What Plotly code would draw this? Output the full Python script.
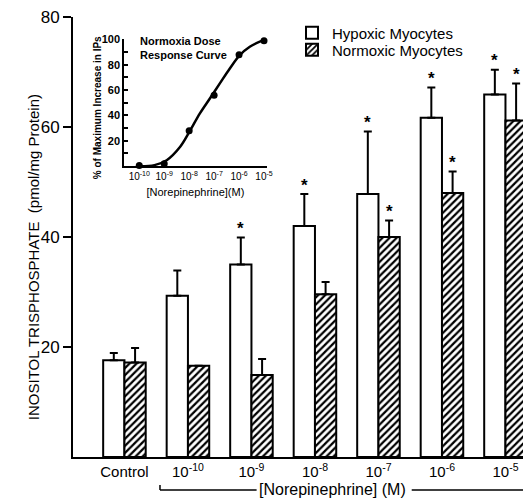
import numpy as np
import plotly.graph_objects as go

# ---- data ----
categories = ["Control", "10<sup>-10</sup>", "10<sup>-9</sup>", "10<sup>-8</sup>",
              "10<sup>-7</sup>", "10<sup>-6</sup>", "10<sup>-5</sup>"]
hypoxic = [17.6, 29.3, 35.0, 42.0, 47.8, 61.7, 65.9]
hypoxic_err = [1.3, 4.6, 4.9, 5.8, 11.4, 5.5, 4.5]
hypoxic_sig = [0, 0, 1, 1, 1, 1, 1]
normoxic = [17.2, 16.6, 14.9, 29.6, 40.0, 48.0, 61.2]
normoxic_err = [2.6, 0.0, 2.9, 2.2, 3.0, 3.9, 6.7]
normoxic_sig = [0, 0, 0, 0, 1, 1, 1]
y_ticks = [20, 40, 60, 80]

# inset: normoxia dose response
inset_dose_exp = [-10, -9, -8, -7, -6, -5]
inset_resp = [0.5, 2, 28, 56, 88, 99]
inset_curve_exp = [-10.0, -9.39, -8.90, -8.36, -7.99, -7.57, -7.17, -6.77, -6.37, -5.97, -5.57, -5.17, -4.97]
inset_curve_resp = [0.0, 0.8, 4.7, 15.3, 27.1, 41.6, 53.4, 65.3, 77.1, 87.6, 94.2, 98.2, 99.5]
inset_xtick_text = ["10<sup>-10</sup>", "10<sup>-9</sup>", "10<sup>-8</sup>",
                    "10<sup>-7</sup>", "10<sup>-6</sup>", "10<sup>-5</sup>"]
inset_yticks = [10, 20, 30, 40, 50, 60, 70, 80, 90, 100]
inset_ytick_text = ["", "<b>20</b>", "", "<b>40</b>", "", "<b>60</b>", "", "<b>80</b>", "", "<b>100</b>"]

FONT = "Liberation Sans"
BW = 0.335
pos = np.arange(len(categories))
x_h = pos - BW / 2
x_n = pos + BW / 2

fig = go.Figure()
fig.add_trace(go.Bar(
    x=x_h, y=hypoxic, width=BW, name="Hypoxic Myocytes", legend="legend",
    marker=dict(color="white", line=dict(color="black", width=2)),
    error_y=dict(type="data", array=hypoxic_err, arrayminus=[0] * 7, symmetric=False,
                 color="black", thickness=2, width=4),
))
fig.add_trace(go.Bar(
    x=x_n, y=normoxic, width=BW, name="Normoxic Myocytes", legend="legend2",
    marker=dict(color="white", line=dict(color="black", width=2),
                pattern=dict(shape="/", size=5, solidity=0.45, fgcolor="black", bgcolor="white")),
    error_y=dict(type="data", array=normoxic_err, arrayminus=[0] * 7, symmetric=False,
                 color="black", thickness=2, width=4),
))

# inset traces
fig.add_trace(go.Scatter(
    x=inset_curve_exp, y=inset_curve_resp, mode="lines", line=dict(color="black", width=2.5, shape="spline"),
    xaxis="x2", yaxis="y2", showlegend=False, cliponaxis=False,
))
fig.add_trace(go.Scatter(
    x=inset_dose_exp, y=inset_resp, mode="markers", marker=dict(color="black", size=7),
    xaxis="x2", yaxis="y2", showlegend=False, cliponaxis=False,
))

annotations = []
for xs, ys, es, sig in [(x_h, hypoxic, hypoxic_err, hypoxic_sig), (x_n, normoxic, normoxic_err, normoxic_sig)]:
    for xi, yi, ei, si in zip(xs, ys, es, sig):
        if si:
            annotations.append(dict(x=xi, y=yi + ei, xref="x", yref="y", text="<b>*</b>",
                                    showarrow=False, yshift=9, font=dict(family=FONT, size=17, color="black")))

annotations += [
    dict(x=-0.089, y=0.454, xref="paper", yref="paper", xanchor="center", yanchor="middle",
         text="INOSITOL TRISPHOSPHATE  (pmol/mg Protein)",
         textangle=-90, showarrow=False, font=dict(family=FONT, size=15, color="black")),
    dict(x=0.0533, y=0.795, xref="paper", yref="paper", xanchor="center", yanchor="middle",
         text="<b>% of Maximum Increase in IPs</b>",
         textangle=-90, showarrow=False, font=dict(family=FONT, size=10, color="black")),
    dict(x=0.1444, y=0.9636, xref="paper", yref="paper", xanchor="left", yanchor="top", align="left",
         text="<b>Normoxia Dose<br>Response Curve</b>", showarrow=False,
         font=dict(family=FONT, size=11, color="black")),
    dict(x=0.5767, y=-0.0745, xref="paper", yref="paper", xanchor="center", yanchor="middle",
         text="[Norepinephrine] (M)",
         showarrow=False, font=dict(family=FONT, size=16, color="black")),
]

shapes = [
    dict(type="line", xref="paper", yref="paper", x0=0.1933, x1=0.408, y0=-0.0750, y1=-0.0750,
         line=dict(color="black", width=1.5)),
    dict(type="line", xref="paper", yref="paper", x0=0.1933, x1=0.1933, y0=-0.0750, y1=-0.0636,
         line=dict(color="black", width=1.5)),
    dict(type="line", xref="paper", yref="paper", x0=0.7527, x1=1.0, y0=-0.0750, y1=-0.0750,
         line=dict(color="black", width=1.5)),
]

legend_style = dict(xanchor="left", yanchor="middle", bgcolor="rgba(0,0,0,0)",
                    font=dict(family=FONT, size=15, color="black"), itemsizing="constant")

fig.update_layout(
    template="none",
    width=523, height=499,
    margin=dict(l=73, r=0, t=17, b=42, autoexpand=False),
    paper_bgcolor="white", plot_bgcolor="white",
    barmode="overlay",
    font=dict(family=FONT, color="black"),
    xaxis=dict(range=[-0.81, 6.276], tickvals=list(pos), ticktext=categories, automargin=False,
               showline=True, linecolor="black", linewidth=2, ticks="", showgrid=False,
               zeroline=False, tickfont=dict(family=FONT, size=15, color="black")),
    yaxis=dict(range=[0, 80], tickvals=y_ticks, showline=True, linecolor="black", linewidth=2,
               automargin=False,
               ticks="outside", ticklen=8, tickwidth=2, tickcolor="black", showgrid=False,
               zeroline=False, tickfont=dict(family=FONT, size=17, color="black")),
    xaxis2=dict(domain=[0.114, 0.430], anchor="y2", range=[-10.6, -4.9], tickvals=inset_dose_exp,
                automargin=False,
                ticktext=inset_xtick_text, showline=True, linecolor="black", linewidth=2, ticks="",
                showgrid=False, zeroline=False, tickfont=dict(family=FONT, size=10, color="black"),
                title=dict(text="[Norepinephrine](M)", font=dict(family=FONT, size=11, color="black"),
                           standoff=7)),
    yaxis2=dict(domain=[0.661, 0.949], anchor="x2", range=[0, 100], tickvals=inset_yticks,
                automargin=False,
                ticktext=inset_ytick_text, showline=True, linecolor="black", linewidth=2,
                ticks="inside", ticklen=4, tickwidth=1.5, tickcolor="black", showgrid=False,
                zeroline=False, tickfont=dict(family=FONT, size=11, color="black")),
    legend=dict(x=0.4867, y=0.9636, **legend_style),
    legend2=dict(x=0.4867, y=0.925, **legend_style),
    annotations=annotations,
    shapes=shapes,
)

fig.write_html("out.html", config={"displayModeBar": False},
               post_script="document.body.style.margin='0';document.body.style.overflow='hidden';")
